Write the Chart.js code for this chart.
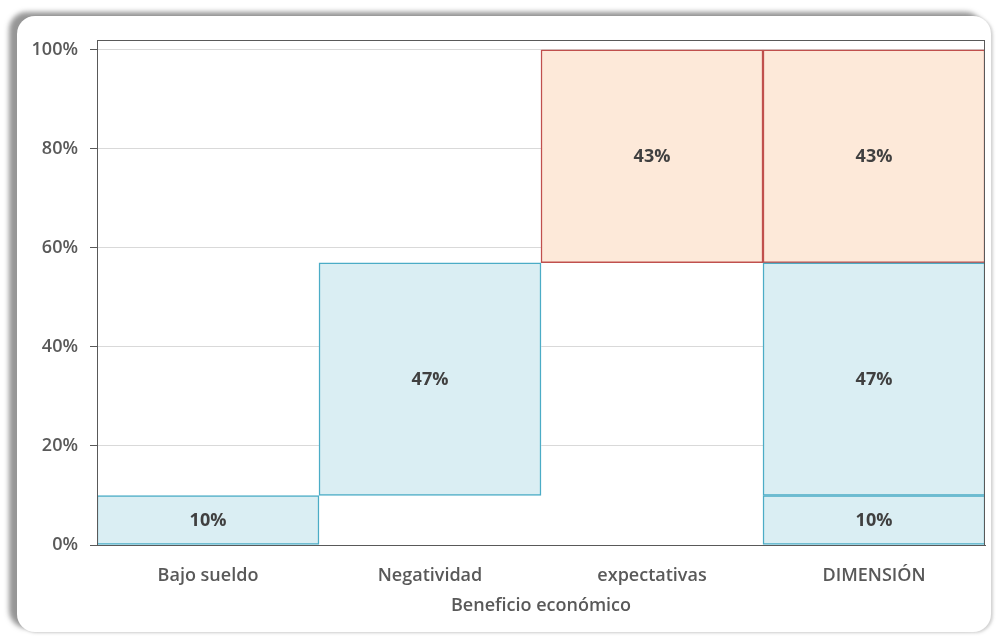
<!DOCTYPE html>
<html>
<head>
<meta charset="utf-8">
<script src="https://cdn.jsdelivr.net/npm/chart.js@4.4.1/dist/chart.umd.min.js"></script>
<style>
  html, body { margin: 0; padding: 0; background: #ffffff; }
  body { width: 1002px; height: 638px; position: relative; overflow: hidden; }
  .frame {
    position: absolute; left: 17px; top: 16px; width: 974px; height: 616px;
    background: #ffffff; border-radius: 18px;
    box-shadow: -8px -4px 5px rgba(80, 80, 80, 0.6), 2px 1px 3px rgba(120, 120, 120, 0.35);
  }
  .wrap { position: absolute; left: 0; top: 0; width: 1002px; height: 638px; }
</style>
</head>
<body>
<div class="frame"></div>
<div class="wrap"><canvas id="chart" width="1002" height="638"></canvas></div>
<script>
// Categories along the x axis; the last column stacks all three factors.
const categories = ['Bajo sueldo', 'Negatividad', 'expectativas', 'DIMENSIÓN'];
// Share of each factor (first three categories), in the same order.
const factorNames = ['Bajo sueldo', 'Negatividad', 'expectativas'];
const factorShares = [0.10, 0.47, 0.43];
const factorFill = ['#daeef3', '#daeef3', '#fde9d9'];
const factorBorder = ['#4bacc6', '#4bacc6', '#c0504d'];
// Value axis ticks.
const yTicks = [0, 0.2, 0.4, 0.6, 0.8, 1.0];
const axisTitle = 'Beneficio económico';

const FONT = "'Open Sans', 'DejaVu Sans', sans-serif";
const totalIndex = categories.length - 1;

// Each factor floats from the running total of the previous ones,
// and is repeated in the DIMENSIÓN column as a stacked segment.
let running = 0;
const datasets = factorShares.map((share, i) => {
  const start = running;
  running += share;
  return {
    label: factorNames[i],
    data: categories.map((c, j) => (j === i || j === totalIndex) ? [start, start + share] : null),
    share: share,
    backgroundColor: factorFill[i],
    borderColor: factorBorder[i],
    borderWidth: 1.5,
    borderSkipped: false,
    grouped: false,
    barPercentage: 1,
    categoryPercentage: 1
  };
});

// Centered percentage labels inside every bar segment.
const segmentLabels = {
  id: 'segmentLabels',
  afterDatasetsDraw(chart) {
    const ctx = chart.ctx;
    ctx.save();
    ctx.font = "bold 18px " + FONT;
    ctx.fillStyle = '#404040';
    ctx.textAlign = 'center';
    ctx.textBaseline = 'middle';
    chart.data.datasets.forEach((ds, di) => {
      const meta = chart.getDatasetMeta(di);
      meta.data.forEach((el, j) => {
        if (ds.data[j] == null) return;
        const text = Math.round(ds.share * 100) + '%';
        ctx.fillText(text, el.x, (el.y + el.base) / 2 + 1);
      });
    });
    ctx.restore();
  }
};

// Closed outline around the plot area.
const plotFrame = {
  id: 'plotFrame',
  afterDatasetsDraw(chart) {
    const a = chart.chartArea;
    const ctx = chart.ctx;
    ctx.save();
    ctx.strokeStyle = '#595959';
    ctx.lineWidth = 1;
    ctx.strokeRect(Math.round(a.left) + 0.5, Math.round(a.top) + 0.5,
                   Math.round(a.right - a.left) - 1, Math.round(a.bottom - a.top));
    ctx.restore();
  }
};

new Chart(document.getElementById('chart'), {
  type: 'bar',
  data: { labels: categories, datasets: datasets },
  options: {
    responsive: false,
    animation: false,
    layout: { padding: { left: 0, right: 17, top: 40, bottom: 0 } },
    plugins: {
      legend: { display: false },
      tooltip: { enabled: false }
    },
    scales: {
      x: {
        grid: { display: false },
        border: { display: true, color: '#595959', width: 1 },
        ticks: {
          color: '#595959',
          font: { family: FONT, size: 18, weight: '600' },
          padding: 12
        },
        title: {
          display: true,
          text: axisTitle,
          color: '#595959',
          font: { family: FONT, size: 18, weight: '600' },
          padding: { top: 0, bottom: 21 }
        },
        afterFit(scale) { scale.height = 93; }
      },
      y: {
        min: 0,
        max: 1.02,
        afterBuildTicks(scale) { scale.ticks = yTicks.map(v => ({ value: v })); },
        grid: {
          color: '#d9d9d9',
          tickColor: '#595959',
          tickLength: 7,
          lineWidth: 1
        },
        border: { display: true, color: '#595959', width: 1 },
        ticks: {
          color: '#595959',
          font: { family: FONT, size: 18, weight: '600' },
          padding: 12,
          callback: v => Math.round(v * 100) + '%'
        },
        afterFit(scale) { scale.width = 97; }
      }
    }
  },
  plugins: [segmentLabels, plotFrame]
});
</script>
</body>
</html>
